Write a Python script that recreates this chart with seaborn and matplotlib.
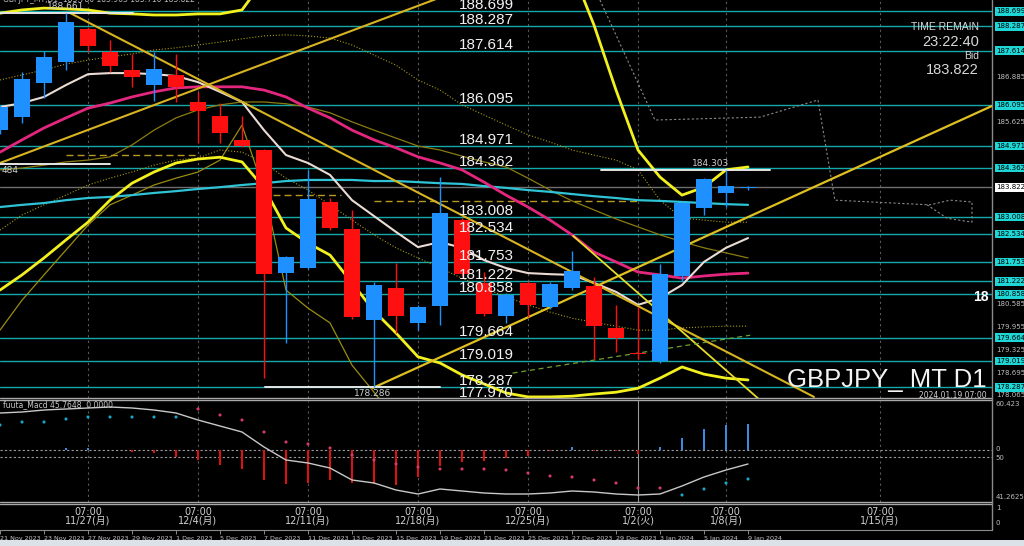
import numpy as np
import pandas as pd
import matplotlib
matplotlib.use("Agg")
import matplotlib.pyplot as plt
from matplotlib.patches import Rectangle
from matplotlib.transforms import blended_transform_factory as blend
import seaborn as sns

# ---------------- data ----------------
dates = ["21 Nov 2023", "22 Nov 2023", "23 Nov 2023", "24 Nov 2023", "27 Nov 2023", "28 Nov 2023",
         "29 Nov 2023", "30 Nov 2023", "1 Dec 2023", "4 Dec 2023", "5 Dec 2023", "6 Dec 2023",
         "7 Dec 2023", "8 Dec 2023", "11 Dec 2023", "12 Dec 2023", "13 Dec 2023", "14 Dec 2023",
         "15 Dec 2023", "18 Dec 2023", "19 Dec 2023", "20 Dec 2023", "21 Dec 2023", "22 Dec 2023",
         "25 Dec 2023", "26 Dec 2023", "27 Dec 2023", "28 Dec 2023", "29 Dec 2023", "2 Jan 2024",
         "3 Jan 2024", "4 Jan 2024", "5 Jan 2024", "8 Jan 2024", "9 Jan 2024"]
opens = [185.42, 185.77, 186.71, 187.31, 188.21, 187.57, 187.08, 186.67, 186.94, 186.19, 185.79, 185.14,
         184.86, 181.46, 181.60, 183.42, 182.68, 180.15, 181.04, 180.06, 180.54, 182.93, 181.17, 180.26,
         181.18, 180.51, 181.04, 181.09, 179.92, 179.24, 179.01, 181.38, 183.25, 183.67, 183.80]
highs = [186.10, 187.02, 187.59, 188.661, 188.27, 187.90, 187.51, 187.57, 187.51, 186.47, 186.16, 185.79,
         184.90, 181.93, 184.31, 183.53, 183.20, 181.20, 181.72, 180.56, 184.11, 182.97, 181.49, 180.89,
         181.22, 181.19, 182.06, 181.35, 180.57, 180.51, 181.71, 183.43, 184.08, 184.303, 183.86]
lows = [185.30, 185.62, 186.30, 187.08, 187.57, 187.02, 186.61, 186.22, 186.19, 185.05, 185.05, 184.95,
        178.54, 179.52, 181.57, 182.65, 180.17, 178.286, 179.78, 179.86, 180.01, 181.37, 180.26, 180.06,
        180.23, 180.46, 180.99, 179.07, 179.27, 179.06, 178.95, 181.23, 183.05, 183.28, 183.76]
closes = [186.05, 186.83, 187.43, 188.41, 187.74, 187.19, 186.88, 187.11, 186.61, 185.93, 185.33, 184.97,
          181.43, 181.89, 183.51, 182.71, 180.23, 181.12, 180.26, 180.51, 183.11, 181.43, 180.32, 180.85,
          180.57, 181.15, 181.52, 179.98, 179.66, 179.20, 181.43, 183.39, 184.06, 183.86, 183.822]

ma_white = [186.05, 186.16, 186.33, 186.66, 186.96, 186.99, 186.99, 186.96, 186.91, 186.74, 186.47, 186.19,
            185.41, 184.72, 184.50, 184.17, 183.47, 183.03, 182.59, 182.17, 182.31, 182.15, 181.81, 181.59,
            181.45, 181.42, 181.40, 181.18, 180.93, 180.57, 180.76, 181.12, 181.76, 182.15, 182.42]
ma_magenta = [184.80, 185.14, 185.47, 185.75, 186.02, 186.16, 186.33, 186.47, 186.58, 186.61, 186.61, 186.61,
              186.52, 186.33, 186.02, 185.75, 185.41, 185.14, 184.92, 184.67, 184.50, 184.31, 183.97, 183.61,
              183.28, 182.92, 182.51, 182.03, 181.76, 181.48, 181.40, 181.31, 181.37, 181.42, 181.45]
ma_cyan = [183.28, 183.34, 183.39, 183.47, 183.53, 183.56, 183.61, 183.67, 183.72, 183.78, 183.83, 183.89,
           183.94, 184.00, 184.03, 184.03, 184.03, 184.00, 184.00, 183.97, 183.94, 183.92, 183.86, 183.81,
           183.75, 183.70, 183.64, 183.58, 183.53, 183.47, 183.45, 183.42, 183.39, 183.36, 183.34]
band_upper = [188.65, 188.74, 188.79, 188.77, 188.74, 188.65, 188.63, 188.60, 188.60, 188.63, 188.63, 188.74,
              189.57, 190.12, 190.40, 190.68, 190.81, 190.90, 190.90, 190.81, 190.68, 190.54, 190.40, 190.26,
              190.12, 189.99, 189.85, 188.32, 186.52, 184.86, 184.11, 183.61, 183.83, 184.31, 184.39]
band_lower = [180.98, 181.40, 181.87, 182.37, 182.86, 183.47, 183.94, 184.25, 184.50, 184.61, 184.66, 184.53,
              183.81, 182.70, 182.28, 181.95, 181.18, 180.40, 179.79, 179.13, 178.96, 178.63, 178.38, 178.13,
              178.02, 178.02, 178.04, 178.10, 178.15, 178.26, 178.54, 178.85, 178.65, 178.54, 178.49]
olive_env = [179.87, 180.70, 181.40, 182.09, 182.78, 183.34, 183.61, 183.89, 184.08, 184.25, 184.58, 185.55,
             183.75, 180.98, 180.48, 180.07, 178.90, 178.15, 177.38]
olive_ma = [184.31, 184.36, 184.44, 184.53, 184.58, 184.67, 185.00, 185.41, 185.75, 185.97, 186.11, 186.19,
            186.19, 186.14, 186.05, 185.89, 185.64, 185.41, 185.19, 184.97, 184.86, 184.69, 184.53, 184.39,
            184.08, 183.75, 183.45, 183.20, 182.95, 182.73, 182.51, 182.32, 182.15, 182.01, 181.87]
dot_upper = [186.80, 186.94, 187.08, 187.24, 187.35, 187.44, 187.52, 187.63, 187.69, 187.77, 187.85, 187.94,
             188.02, 188.05, 188.02, 187.96, 187.77, 187.49, 187.21, 186.80, 186.52, 186.11, 185.83, 185.55,
             185.28, 185.08, 184.86, 184.72, 184.58, 184.31, 183.47, 182.97, 182.92, 182.86, 182.86]
dot_lower = [182.64, 183.06, 183.34, 183.61, 183.89, 184.08, 184.25, 184.44, 184.58, 184.64, 184.86, 184.80,
             184.50, 184.08, 183.75, 183.34, 182.92, 182.51, 182.15, 181.87, 181.59, 181.31, 181.04, 180.79,
             180.57, 180.37, 180.20, 180.09, 179.98, 179.87, 179.87, 179.93, 179.96, 179.98, 179.98]

# trend lines
trend_x0 = [3.2, 0.0, 16.95, 26.05, 23.3]
trend_y0 = [188.65, 184.50, 178.27, 182.48, 178.68]
trend_x1 = [37.0, 21.82, 45.09, 34.55, 34.1]
trend_y1 = [178.02, 189.50, 186.08, 177.93, 179.73]

dash_x0 = [3.0, 12.4, 17.0]
dash_x1 = [9.1, 15.5, 29.1]
dash_y = [184.72, 183.61, 183.45]

proj_x = [27.27, 29.77, 34.55, 37.18, 37.95, 42.27, 43.18, 44.18, 44.18, 43.05, 42.14]
proj_y = [189.015, 185.69, 185.77, 186.245, 183.47, 183.34, 183.47, 183.42, 182.86, 182.97, 183.34]

levels = [188.699, 188.287, 187.614, 186.095, 184.971, 184.362, 183.008, 182.534, 181.753, 181.222,
          180.858, 179.664, 179.019, 178.287, 177.970]
level_labels = ["188.699", "188.287", "187.614", "186.095", "184.971", "184.362", "183.008", "182.534",
                "181.753", "181.222", "180.858", "179.664", "179.019", "178.287", "177.970"]
white_x0 = [0.0, 0.0, 12.05, 27.3]
white_x1 = [6.05, 5.0, 20.0, 35.0]
white_y = [188.661, 184.484, 178.286, 184.303]
white_txt = ["188.661", "484", "178.286", "184.303"]
white_tx = [3.0, 0.05, 16.95, 32.3]

axis_ticks = [188.145, 187.515, 186.885, 186.255, 185.625, 184.995, 184.365, 183.735, 183.105, 182.475,
              181.845, 181.215, 180.585, 179.955, 179.325, 178.695, 178.065]
bid = 183.822

macd_hist = [0, 0, 0, 2, 2, 0, -2, -3, -7, -10, -15, -19, -30, -34, -33, -30, -33, -34, -35, -27,
             -16, -12, -11, -8, -6, -1, 3, -1, -1, -4, 3, 12, 21, 25, 26]
macd_dots = [25, 28, 28, 31, 33, 33, 33, 33, 33, 41, 35, 30, 18, 8, 6, 2, -5, -10, -14, -17,
             -19, -19, -19, -20, -23, -26, -27, -30, -33, -38, -38, -45, -39, -33, -29]
dot_side = ["up"] * 9 + ["down"] * 22 + ["up"] * 4
macd_signal = [37, 38, 40, 41, 42, 43, 42, 40, 37, 30, 24, 18, 3, -10, -13, -18, -30, -33, -40, -44,
               -39, -41, -43, -44, -44, -43, -41, -42, -44, -45, -44, -36, -27, -20, -14]

week_pos = [4, 9, 14, 19, 24, 29, 33, 40]
week_labels = ["11/27(月)", "12/4(月)", "12/11(月)", "12/18(月)", "12/25(月)", "1/2(火)", "1/8(月)", "1/15(月)"]

# ---------------- style ----------------
sns.set_theme(style="dark", rc={"axes.facecolor": "black", "figure.facecolor": "black",
                                "axes.grid": False})
plt.rcParams['font.family'] = ['DejaVu Sans', 'Noto Sans CJK JP']
ARIAL = ['Liberation Sans', 'DejaVu Sans']

W, H = 1024, 546
fig = plt.figure(figsize=(W / 100, H / 100), dpi=100, facecolor='black')
ax = fig.add_axes([0, 1 - 398 / H, 992 / W, 398 / H])
axm = fig.add_axes([0, 1 - 502 / H, 992 / W, 101 / H])
axt = fig.add_axes([0, 1 - 530 / H, 992 / W, 26 / H])

idx = np.arange(len(opens))
df = pd.DataFrame({"i": idx, "open": opens, "high": highs, "low": lows, "close": closes})
XMAX = 992 / 22
for a in (ax, axm, axt):
    a.set_facecolor('black')
    a.set_xlim(0, XMAX)
    a.set_xticks([])
    a.set_yticks([])
    for s in a.spines.values():
        s.set_visible(False)
ax.set_ylim(177.990, 189.015)
axm.set_ylim(-52, 49)
axt.set_ylim(0, 1)


def line(a, x, y, **kw):
    sns.lineplot(x=list(x), y=list(y), ax=a, estimator=None, sort=False, legend=False, **kw)


# vertical week separators
for p in week_pos:
    ax.axvline(p, color='#5a5a5a', ls=(0, (2, 3)), lw=0.8, zorder=1)
    axm.axvline(p, color='#5a5a5a' if p != 29 else '#9a9a9a', ls=(0, (2, 3)) if p != 29 else '-',
                lw=0.8, zorder=1)

# horizontal levels
for lv, lab in zip(levels, level_labels):
    ax.axhline(lv, color='#15a8a8', lw=1.0, zorder=2)
    ax.annotate(lab, xy=(20.85, lv), xytext=(0, 2), textcoords='offset pixels', color='#f2f2f2',
                fontsize=11, family=ARIAL, va='baseline', ha='left', zorder=9, annotation_clip=False,
                clip_on=True)
ax.axhline(bid, color='#6e6e6e', lw=1.0, zorder=2)

# indicator lines
line(ax, idx, dot_upper, color='#a89a18', lw=0.8, linestyle=':', zorder=3)
line(ax, idx, dot_lower, color='#a89a18', lw=0.8, linestyle=':', zorder=3)
line(ax, idx, olive_ma, color='#8c7c10', lw=0.9, zorder=3)
line(ax, idx[:len(olive_env)], olive_env, color='#9a8c12', lw=0.9, zorder=3)
line(ax, idx, ma_cyan, color='#2ec4d6', lw=1.6, zorder=4)
line(ax, idx, ma_magenta, color='#e3267e', lw=2.0, zorder=4)
line(ax, idx, ma_white, color='#eadcd4', lw=1.5, zorder=4)
line(ax, idx, band_upper, color='#f2f01e', lw=2.0, zorder=4)
line(ax, idx, band_lower, color='#f2f01e', lw=2.0, zorder=4)
for x0, x1, y in zip(dash_x0, dash_x1, dash_y):
    line(ax, [x0, x1], [y, y], color='#b89a20', lw=1.0, linestyle=(0, (5, 3)), zorder=3)
trend_col = ['#d8b420', '#d8b420', '#e0c020', '#e6dc28', '#6fa030']
trend_ls = ['-', '-', '-', '-', (0, (4, 3))]
trend_lw = [1.5, 1.5, 1.6, 1.3, 0.9]
for k in range(len(trend_x0)):
    line(ax, [trend_x0[k], trend_x1[k]], [trend_y0[k], trend_y1[k]], color=trend_col[k],
         lw=trend_lw[k], linestyle=trend_ls[k], zorder=4)
line(ax, proj_x, proj_y, color='#8a8a8a', lw=0.8, linestyle=(0, (2, 2)), zorder=3)

for x0, x1, y, t, tx in zip(white_x0, white_x1, white_y, white_txt, white_tx):
    line(ax, [x0, x1], [y, y], color='#e6e6e6', lw=1.4, zorder=5)
    above = t in ("188.661", "184.303")
    ax.annotate(t, xy=(tx, y), xytext=(0, 2 if above else -2), textcoords='offset pixels',
                color='#cfcfcf', fontsize=6.5, ha='center' if t != "484" else 'left',
                va='bottom' if above else 'top', zorder=9)

# candles
col = np.where(df["close"] >= df["open"], '#1e90ff', '#ff1010')
ax.vlines(df["i"], df["low"], df["high"], colors=col, lw=1.0, zorder=6)
body_bot = np.minimum(df["open"], df["close"])
body_h = np.maximum(np.abs(df["close"] - df["open"]), 0.03)
ax.bar(df["i"], body_h, bottom=body_bot, width=0.76, color=col, linewidth=0, zorder=7)

# right price axis
tr = blend(ax.transAxes, ax.transData)
boxed = [lv for lv in levels if lv > 178.0] + [bid]
for t in axis_ticks:
    if min(abs(t - b) for b in boxed) < 0.2:
        continue
    ax.text(1.004, t, f"{t:.3f}", transform=tr, fontsize=5, color='#bdbdbd', va='center',
            ha='left', clip_on=False, zorder=10)
for lv, lab in zip(levels, level_labels):
    if lv > 178.0:
        ax.text(1.004, lv, lab, transform=tr, fontsize=5, color='black', va='center', ha='left',
                clip_on=False, zorder=11,
                bbox=dict(boxstyle='square,pad=0.18', fc='#1fd6d6', ec='none'))
ax.text(1.004, bid, f"{bid:.3f}", transform=tr, fontsize=5, color='black', va='center', ha='left',
        clip_on=False, zorder=11, bbox=dict(boxstyle='square,pad=0.18', fc='white', ec='none'))

# texts on main panel
ax.text(0.987, 1 - 27 / 398, "TIME REMAIN", transform=ax.transAxes, ha='right', va='center',
        fontsize=7.5, color='#d8d8d8', family=ARIAL, zorder=12)
ax.text(0.987, 1 - 42 / 398, "23:22:40", transform=ax.transAxes, ha='right', va='center',
        fontsize=10.5, color='#d8d8d8', family=ARIAL, zorder=12)
ax.text(0.987, 1 - 56 / 398, "Bid", transform=ax.transAxes, ha='right', va='center',
        fontsize=7.5, color='#d8d8d8', family=ARIAL, zorder=12)
ax.text(0.987, 1 - 70 / 398, "183.822", transform=ax.transAxes, ha='right', va='center',
        fontsize=10.5, color='#d8d8d8', family=ARIAL, zorder=12)
ax.text(0.995, 1 - 380 / 398, "GBPJPY_ MT D1", transform=ax.transAxes, ha='right', va='center',
        fontsize=18.5, color='#f4f4f4', family=ARIAL, zorder=12)
ax.text(0.995, 1 - 395 / 398, "2024.01.19 07:00", transform=ax.transAxes, ha='right', va='center',
        fontsize=5.5, color='#d0d0d0', zorder=12, clip_on=True)
ax.text(973 / 992, 1 - 297 / 398, "18", transform=ax.transAxes, ha='left', va='center',
        fontsize=10, fontweight='bold', color='white', family=ARIAL, zorder=12, clip_on=True)
ax.text(0.003, 1.0, "GBPJPY_MT,D1  183.780 183.963 183.710 183.822", transform=ax.transAxes,
        ha='left', va='center', fontsize=5.5, color='#bbbbbb', zorder=12, clip_on=True)

# ---------------- MACD panel ----------------
axm.axhline(0, color='#9a9a9a', ls=(0, (2, 2)), lw=0.8, zorder=1)
axm.axhline(-7, color='#9a9a9a', ls=(0, (2, 2)), lw=0.8, zorder=1)
hist_col = ['#3c8ae0' if v > 0 else '#e01010' for v in macd_hist]
axm.bar(idx, macd_hist, width=0.12, color=hist_col, linewidth=0, zorder=3)
line(axm, idx, macd_signal, color='#c8c8c8', lw=1.0, zorder=4)
sns.scatterplot(x=idx, y=macd_dots, hue=dot_side, palette={'up': '#1aa6c8', 'down': '#d83a68'},
                s=5, linewidth=0, ax=axm, legend=False, zorder=5)
axm.text(0.003, 45, "fuuta_Macd 45.7648  0.0000", transform=blend(axm.transAxes, axm.transData),
         fontsize=5.5, color='#c8c8c8', va='center', ha='left', zorder=6)
trm = blend(axm.transAxes, axm.transData)
for v, t in zip([46, 1, -8, -47], ["60.423", "0", "50", "41.2625"]):
    axm.text(1.004, v, t, transform=trm, fontsize=5, color='#bdbdbd', va='center', ha='left',
             clip_on=False)

# ---------------- time panel ----------------
for p, lab in zip(week_pos, week_labels):
    axt.text(p, 0.69, "07:00", fontsize=7, color='#d0d0d0', ha='center', va='center')
    axt.text(p, 0.36, lab, fontsize=7, color='#d0d0d0', ha='center', va='center')
axt.text(1.004, 0.85, "1", transform=axt.transAxes, fontsize=5, color='#bdbdbd', va='center')
axt.text(1.004, 0.27, "0", transform=axt.transAxes, fontsize=5, color='#bdbdbd', va='center')
axt.set_xticks(idx[::2])
axt.set_xticklabels(dates[::2], fontsize=4.6, color='#c8c8c8')
for lbl in axt.get_xticklabels():
    lbl.set_horizontalalignment('left')
axt.tick_params(axis='x', bottom=True, length=3, width=0.6, color='#a0a0a0', pad=1, direction='out')

# borders
for y0 in (398, 400, 502, 504):
    fig.add_artist(plt.Line2D([0, 992 / W], [1 - y0 / H, 1 - y0 / H], color='#a8a8a8', lw=1.0))
fig.add_artist(plt.Line2D([0, 992 / W], [1 - 530 / H] * 2, color='#8a8a8a', lw=0.8))
fig.add_artist(plt.Line2D([992 / W, 992 / W], [1 - 530 / H, 1], color='#8a8a8a', lw=1.0))
fig.add_artist(Rectangle((0, 0), 1, 6 / H, transform=fig.transFigure, facecolor='#dde2e8',
                         edgecolor='none'))

fig.savefig("out.png", dpi=100, facecolor='black')
